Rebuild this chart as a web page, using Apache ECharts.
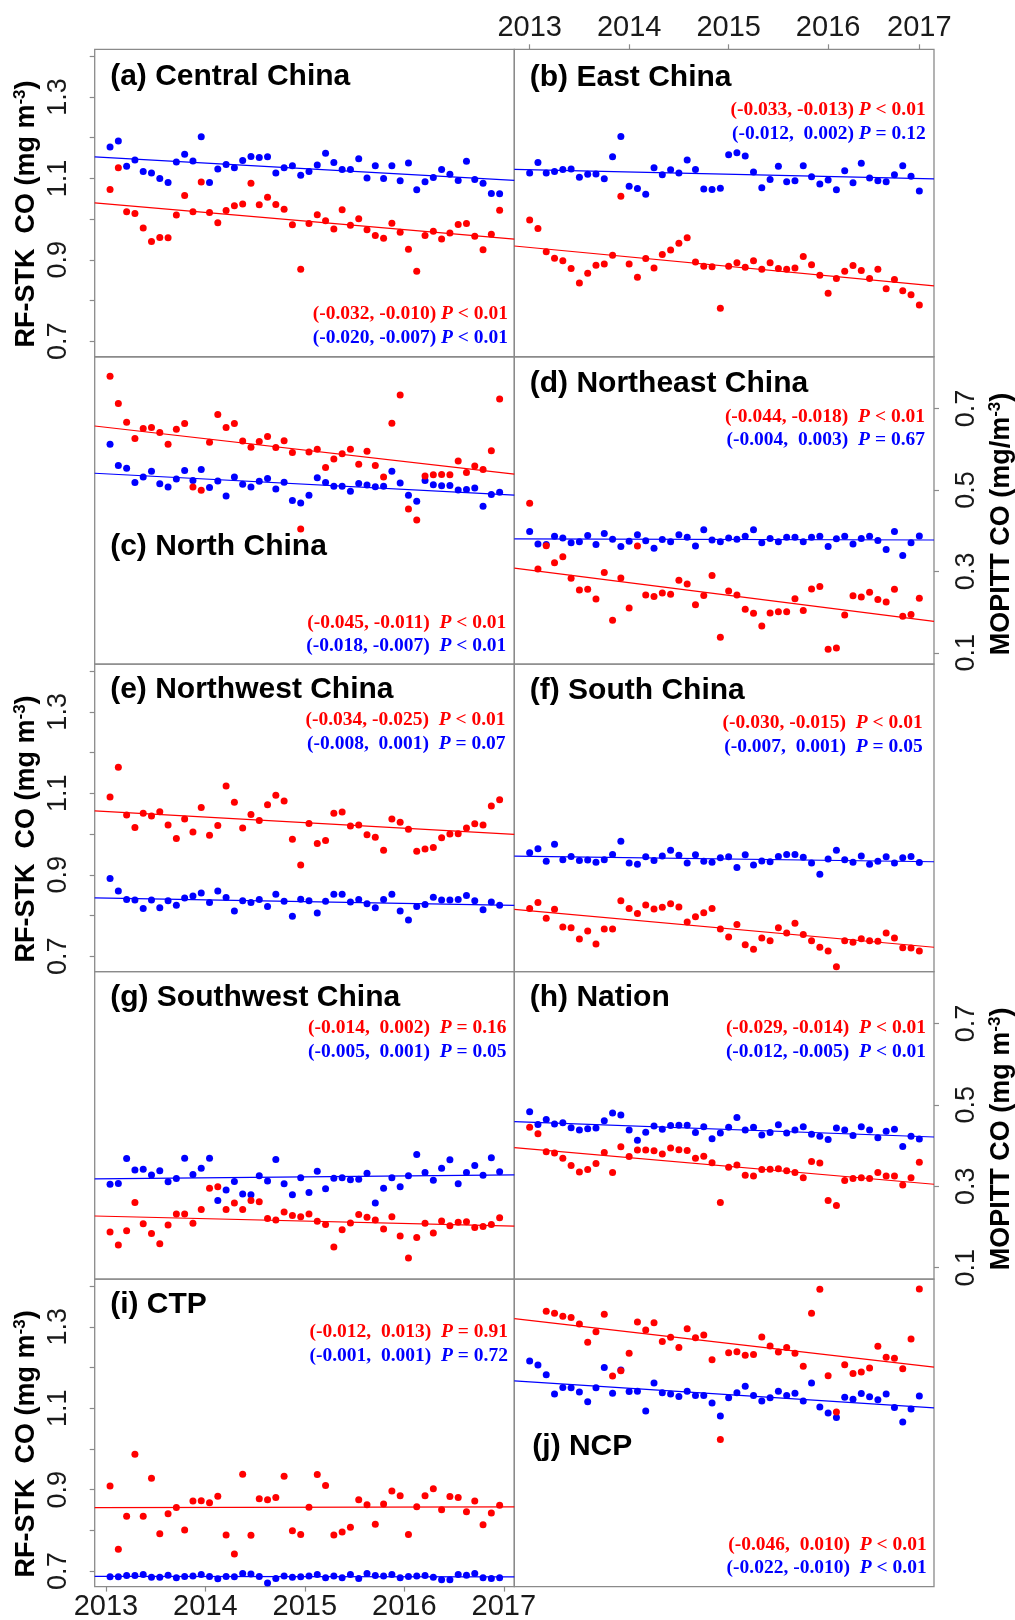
<!DOCTYPE html>
<html><head><meta charset="utf-8">
<script src="https://cdn.jsdelivr.net/npm/echarts@6/dist/echarts.min.js"></script>
<style>html,body{margin:0;padding:0;background:#fff}#c{width:1015px;height:1620px}</style>
</head><body><div id="c"></div>
<script>
// ---- categories: months Jan 2013 .. Dec 2016 ----
const monthLabels = [];
for (let y = 2013; y <= 2016; y++) for (let m = 1; m <= 12; m++) monthLabels.push(y + '-' + String(m).padStart(2, '0'));

const panelTitles = ['(a) Central China', '(b) East China', '(c) North China', '(d) Northeast China',
  '(e) Northwest China', '(f) South China', '(g) Southwest China', '(h) Nation', '(i) CTP', '(j) NCP'];

// ---- RF-STK CO (red, left axis, mg m-3) ----
const redA = [1.073,1.126,1.018,1.014,0.978,0.945,0.955,0.954,1.010,1.058,1.018,1.091,1.016,0.991,1.021,1.033,1.037,1.088,1.035,1.054,1.036,1.024,0.986,0.877,0.989,1.011,0.996,0.976,1.023,0.985,1.001,0.974,0.960,0.953,0.990,0.968,0.926,0.872,0.960,0.970,0.951,0.966,0.987,0.989,0.958,0.925,0.963,1.022];
const redB = [0.998,0.977,0.920,0.904,0.898,0.879,0.843,0.867,0.887,0.890,0.911,1.056,0.890,0.857,0.903,0.880,0.913,0.924,0.941,0.954,0.895,0.884,0.883,0.781,0.884,0.893,0.882,0.898,0.877,0.893,0.879,0.877,0.880,0.908,0.888,0.862,0.818,0.854,0.872,0.886,0.874,0.854,0.877,0.829,0.852,0.824,0.814,0.789];
const redC = [1.369,1.302,1.256,1.216,1.241,1.243,1.231,1.202,1.239,1.253,1.097,1.089,1.207,1.275,1.243,1.253,1.210,1.195,1.209,1.221,1.194,1.211,1.182,0.994,1.183,1.190,1.145,1.166,1.179,1.190,1.153,1.185,1.150,1.122,1.254,1.323,1.043,1.016,1.124,1.127,1.128,1.127,1.161,1.133,1.149,1.140,1.186,1.313];
const redD = [1.057,0.896,0.953,0.911,0.926,0.873,0.844,0.846,0.822,0.887,0.770,0.874,0.800,0.952,0.832,0.828,0.837,0.834,0.868,0.859,0.808,0.831,0.880,0.728,0.842,0.832,0.797,0.787,0.756,0.788,0.791,0.791,0.823,0.794,0.847,0.853,0.699,0.702,0.783,0.830,0.827,0.839,0.821,0.815,0.846,0.780,0.784,0.824];
const redE = [1.091,1.164,1.047,1.016,1.051,1.044,1.055,1.022,0.989,1.037,1.005,1.065,0.997,1.021,1.118,1.078,1.015,1.048,1.033,1.072,1.095,1.081,0.987,0.924,1.026,0.977,0.984,1.051,1.054,1.020,1.022,0.998,0.992,0.960,1.037,1.029,1.012,0.958,0.963,0.967,0.991,1.000,1.001,1.015,1.025,1.022,1.069,1.084];
const redF = [0.817,0.832,0.793,0.815,0.772,0.770,0.742,0.762,0.730,0.767,0.767,0.836,0.817,0.805,0.826,0.816,0.820,0.829,0.821,0.784,0.797,0.807,0.817,0.767,0.747,0.778,0.728,0.717,0.745,0.738,0.770,0.757,0.781,0.753,0.738,0.722,0.713,0.674,0.738,0.734,0.743,0.738,0.737,0.757,0.745,0.721,0.720,0.713];
const redG = [0.778,0.746,0.781,0.850,0.798,0.774,0.749,0.795,0.822,0.822,0.799,0.833,0.885,0.889,0.833,0.849,0.833,0.855,0.852,0.811,0.807,0.827,0.818,0.815,0.822,0.804,0.796,0.741,0.783,0.800,0.821,0.814,0.807,0.785,0.815,0.768,0.714,0.764,0.799,0.775,0.805,0.793,0.802,0.803,0.789,0.791,0.796,0.813];
const redH = [1.035,1.019,0.975,0.972,0.959,0.941,0.925,0.931,0.946,0.973,0.924,0.987,0.963,0.979,0.979,0.977,0.969,0.984,0.980,0.978,0.959,0.964,0.948,0.850,0.937,0.942,0.917,0.915,0.931,0.932,0.933,0.928,0.924,0.911,0.951,0.947,0.855,0.843,0.904,0.909,0.911,0.909,0.924,0.915,0.915,0.893,0.911,0.949];
const redI = [0.909,0.754,0.835,0.987,0.835,0.928,0.792,0.841,0.856,0.801,0.872,0.873,0.868,0.884,0.789,0.742,0.938,0.788,0.878,0.875,0.881,0.933,0.799,0.790,0.857,0.937,0.910,0.789,0.796,0.808,0.875,0.863,0.815,0.865,0.897,0.885,0.790,0.858,0.885,0.902,0.851,0.883,0.881,0.846,0.872,0.814,0.843,0.862];
const redJ = [null,null,1.338,1.333,1.326,1.323,1.307,1.262,1.288,1.331,1.179,1.192,1.235,1.312,1.292,1.310,1.264,1.274,1.249,1.295,1.273,1.280,1.219,1.023,1.236,1.239,1.230,1.232,1.275,1.253,1.238,1.249,1.235,1.203,1.333,1.392,1.180,1.091,1.207,1.185,1.189,1.199,1.252,1.225,1.223,1.197,1.270,1.393];

// ---- MOPITT CO (blue, right axis, mg m-3) ----
const blueA = [0.587,0.602,0.540,0.555,0.527,0.523,0.510,0.500,0.550,0.569,0.553,0.612,0.500,0.533,0.544,0.536,0.554,0.564,0.561,0.563,0.523,0.536,0.541,0.518,0.527,0.543,0.572,0.549,0.532,0.532,0.558,0.511,0.541,0.510,0.541,0.504,0.548,0.482,0.502,0.512,0.532,0.520,0.505,0.552,0.507,0.498,0.473,0.472];
const blueB = [0.523,0.549,0.523,0.527,0.532,0.533,0.513,0.520,0.521,0.509,0.563,0.613,0.491,0.485,0.471,0.536,0.519,0.531,0.523,0.555,0.532,0.484,0.483,0.486,0.568,0.573,0.565,0.526,0.487,0.507,0.540,0.502,0.504,0.541,0.514,0.496,0.506,0.482,0.529,0.499,0.547,0.511,0.504,0.502,0.519,0.541,0.515,0.479];
const blueC = [0.612,0.560,0.553,0.518,0.532,0.546,0.515,0.507,0.527,0.548,0.523,0.550,0.506,0.522,0.485,0.532,0.514,0.507,0.521,0.528,0.502,0.519,0.474,0.468,0.487,0.530,0.518,0.509,0.509,0.497,0.516,0.512,0.508,0.509,0.546,0.517,0.487,0.472,0.523,0.513,0.510,0.511,0.500,0.501,0.505,0.460,0.489,0.494];
const blueD = [0.398,0.367,0.366,0.386,0.382,0.370,0.373,0.388,0.366,0.393,0.379,0.361,0.374,0.390,0.375,0.357,0.378,0.373,0.390,0.384,0.362,0.402,0.377,0.373,0.382,0.379,0.386,0.402,0.370,0.381,0.373,0.384,0.384,0.373,0.384,0.386,0.361,0.380,0.386,0.367,0.381,0.386,0.376,0.354,0.398,0.339,0.370,0.387];
const blueE = [0.301,0.270,0.249,0.248,0.227,0.248,0.229,0.246,0.235,0.253,0.258,0.265,0.242,0.270,0.254,0.221,0.246,0.242,0.249,0.232,0.262,0.245,0.208,0.250,0.246,0.216,0.245,0.262,0.262,0.243,0.249,0.239,0.229,0.249,0.262,0.221,0.199,0.232,0.237,0.255,0.248,0.248,0.249,0.259,0.246,0.224,0.243,0.235];
const blueF = [0.364,0.374,0.343,0.385,0.347,0.355,0.345,0.346,0.341,0.347,0.360,0.392,0.339,0.336,0.354,0.345,0.356,0.370,0.358,0.339,0.359,0.343,0.341,0.352,0.354,0.328,0.359,0.334,0.344,0.342,0.355,0.360,0.360,0.353,0.339,0.311,0.349,0.370,0.347,0.341,0.356,0.336,0.343,0.354,0.339,0.352,0.355,0.340];
const blueG = [0.305,0.307,0.368,0.340,0.342,0.328,0.338,0.311,0.319,0.369,0.329,0.344,0.369,0.265,0.291,0.312,0.281,0.279,0.326,0.313,0.366,0.306,0.279,0.321,0.285,0.337,0.294,0.320,0.321,0.316,0.317,0.332,0.259,0.295,0.321,0.299,0.326,0.378,0.334,0.315,0.344,0.365,0.306,0.334,0.351,0.327,0.370,0.336];
const blueH = [0.483,0.452,0.464,0.453,0.456,0.444,0.438,0.441,0.443,0.461,0.480,0.475,0.438,0.413,0.433,0.448,0.440,0.449,0.450,0.450,0.432,0.446,0.417,0.431,0.445,0.469,0.438,0.445,0.426,0.432,0.451,0.431,0.438,0.446,0.428,0.423,0.415,0.443,0.438,0.425,0.446,0.438,0.419,0.435,0.440,0.398,0.423,0.416];
const blueI = [0.096,0.096,0.099,0.099,0.102,0.095,0.095,0.100,0.094,0.097,0.098,0.102,0.097,0.091,0.097,0.096,0.104,0.103,0.097,0.081,0.092,0.098,0.095,0.096,0.098,0.102,0.094,0.098,0.094,0.102,0.092,0.104,0.099,0.098,0.102,0.094,0.097,0.098,0.099,0.095,0.089,0.089,0.102,0.100,0.104,0.094,0.092,0.094];
const blueJ = [0.626,0.616,0.592,0.545,0.561,0.560,0.550,0.526,0.560,0.610,0.547,0.604,0.551,0.552,0.503,0.572,0.548,0.545,0.539,0.552,0.541,0.541,0.523,0.491,0.536,0.548,0.564,0.541,0.528,0.536,0.552,0.541,0.547,0.528,0.572,0.513,0.498,0.487,0.537,0.532,0.546,0.538,0.531,0.545,0.512,0.476,0.508,0.540];

// ---- trend lines: values at left and right edge of each panel ----
const trendRed = [[1.040,0.951],[0.934,0.836],[1.247,1.129],[0.898,0.767],[1.057,0.999],[0.815,0.722],[0.817,0.792],[0.985,0.895],[0.856,0.858],[1.320,1.201]];
const trendBlue = [[0.563,0.505],[0.532,0.509],[0.541,0.487],[0.380,0.377],[0.253,0.235],[0.356,0.342],[0.318,0.328],[0.459,0.421],[0.097,0.096],[0.577,0.511]];

// ---- trend statistics text ----
const redCI = ['(-0.032, -0.010)','(-0.033, -0.013)','(-0.045, -0.011)','(-0.044, -0.018)','(-0.034, -0.025)','(-0.030, -0.015)','(-0.014,  0.002)','(-0.029, -0.014)','(-0.012,  0.013)','(-0.046,  0.010)'];
const redP = ['< 0.01','< 0.01','< 0.01','< 0.01','< 0.01','< 0.01','= 0.16','< 0.01','= 0.91','< 0.01'];
const blueCI = ['(-0.020, -0.007)','(-0.012,  0.002)','(-0.018, -0.007)','(-0.004,  0.003)','(-0.008,  0.001)','(-0.007,  0.001)','(-0.005,  0.001)','(-0.012, -0.005)','(-0.001,  0.001)','(-0.022, -0.010)'];
const blueP = ['< 0.01','= 0.12','< 0.01','= 0.67','= 0.07','= 0.05','= 0.05','< 0.01','= 0.72','< 0.01'];

// ---- tick labels ----
const leftTickLabels = [0.7, 0.9, 1.1, 1.3];
const leftMinorTicks = [0.7, 0.8, 0.9, 1.0, 1.1, 1.2, 1.3, 1.4];
const rightTickLabels = [0.1, 0.3, 0.5, 0.7];
const bottomYears = [2013, 2014, 2015, 2016, 2017];
const topYearMonthIdx = [0, 12, 24, 36, 47];

// ---------------- layout ----------------
const xs = monthLabels.map(s => { const [y, m] = s.split('-').map(Number); return y + (m - 0.5) / 12; });
const X_MIN = 2012.8873, X_MAX = 2017.1058;
const Y_L = [0.662, 1.417], Y_R = [0.072, 0.827];
const colLeft = [94.7, 514.3], colW = [419.6, 419.7];
const rowTop0 = 49.3, rowH = 307.46;
const reds = [redA, redB, redC, redD, redE, redF, redG, redH, redI, redJ];
const blues = [blueA, blueB, blueC, blueD, blueE, blueF, blueG, blueH, blueI, blueJ];
const RED = '#ff0000', BLUE = '#0000ff';
const SANS = '"Liberation Sans", Arial, Helvetica, sans-serif';
const SERIF = '"Liberation Serif", "Times New Roman", serif';

const grids = [], xAxes = [], yAxes = [], series = [], graphics = [];
const titleDy = [27.5, 28, 190, 26.6, 26, 26.7, 26, 26, 25.7, 167.4];
// [inset from right, line1 dy, line2 dy, anchor]
const statPos = [[6.4,-42.7,-18.4,'b'],[8.3,60.7,84.7,'t'],[8,-41.3,-18,'b'],[9,60,83.3,'t'],[8.7,56,80,'t'],[11.3,58.7,82.7,'t'],[7.7,56,80,'t'],[8,56,80,'t'],[6.4,52.4,76.4,'t'],[7.3,-41.6,-18.3,'b']];

for (let p = 0; p < 10; p++) {
  const col = p % 2, row = Math.floor(p / 2);
  const left = colLeft[col], top = rowTop0 + row * rowH, w = colW[col];
  grids.push({ left, top, width: w, height: rowH, show: true, borderColor: '#8a8a8a', borderWidth: 1.3, backgroundColor: 'transparent', containLabel: false, outerBoundsMode: 'none' });

  const xa = { gridIndex: p, type: 'value', min: X_MIN, max: X_MAX, axisLine: { show: false }, splitLine: { show: false }, axisTick: { show: false }, axisLabel: { show: false } };
  if (p === 1) {
    const tv = topYearMonthIdx.map(i => xs[i]);
    Object.assign(xa, { position: 'top',
      axisTick: { show: true, length: 5, customValues: tv, lineStyle: { color: '#8a8a8a', width: 1.2 } },
      axisLabel: { show: true, customValues: tv, margin: 7, formatter: v => String(Math.round(v)), fontSize: 29, fontFamily: SANS, color: '#1a1a1a' } });
  }
  if (p === 8) {
    Object.assign(xa, { position: 'bottom',
      axisTick: { show: true, length: 5, customValues: bottomYears, lineStyle: { color: '#8a8a8a', width: 1.2 } },
      axisLabel: { show: true, customValues: bottomYears, margin: 6, formatter: v => String(Math.round(v)), fontSize: 29, fontFamily: SANS, color: '#1a1a1a' } });
  }
  xAxes.push(xa);

  const showLeft = (col === 0 && row % 2 === 0);
  const showRight = (col === 1 && row % 2 === 1);
  yAxes.push({ gridIndex: p, type: 'value', position: 'left', min: Y_L[0], max: Y_L[1],
    axisLine: { show: false }, splitLine: { show: false },
    axisTick: { show: showLeft, length: 5, customValues: leftMinorTicks, lineStyle: { color: '#8a8a8a', width: 1.2 } },
    axisLabel: { show: showLeft, customValues: leftTickLabels, rotate: 90, margin: 23, formatter: v => v.toFixed(1), fontSize: 27, fontFamily: SANS, color: '#1a1a1a' } });
  yAxes.push({ gridIndex: p, type: 'value', position: 'right', min: Y_R[0], max: Y_R[1],
    axisLine: { show: false }, splitLine: { show: false },
    axisTick: { show: showRight, length: 5, customValues: rightTickLabels, lineStyle: { color: '#8a8a8a', width: 1.2 } },
    axisLabel: { show: showRight, customValues: rightTickLabels, rotate: 90, margin: 19, formatter: v => v.toFixed(1), fontSize: 27, fontFamily: SANS, color: '#1a1a1a' } });

  series.push({ type: 'line', xAxisIndex: p, yAxisIndex: 2 * p, data: [[X_MIN, trendRed[p][0]], [X_MAX, trendRed[p][1]]], symbol: 'none', silent: true, lineStyle: { color: RED, width: 1.2 }, z: 2 });
  series.push({ type: 'line', xAxisIndex: p, yAxisIndex: 2 * p + 1, data: [[X_MIN, trendBlue[p][0]], [X_MAX, trendBlue[p][1]]], symbol: 'none', silent: true, lineStyle: { color: BLUE, width: 1.2 }, z: 2 });
  series.push({ type: 'scatter', xAxisIndex: p, yAxisIndex: 2 * p + 1, symbol: 'circle', symbolSize: 7, silent: true,
    itemStyle: { color: BLUE, opacity: 1 }, data: blues[p].map((v, i) => v == null ? null : [xs[i], v]).filter(d => d), z: 3 });
  series.push({ type: 'scatter', xAxisIndex: p, yAxisIndex: 2 * p, symbol: 'circle', symbolSize: 7, silent: true,
    itemStyle: { color: RED, opacity: 1 }, data: reds[p].map((v, i) => v == null ? null : [xs[i], v]).filter(d => d), z: 4 });

  // panel title
  graphics.push({ type: 'text', x: left + (p === 9 ? 18 : 15.5), y: top + titleDy[p], z: 10,
    style: { text: panelTitles[p], font: 'bold 30px ' + SANS, fill: '#000', align: 'left', verticalAlign: 'middle' } });

  // statistics text
  const sp = statPos[p];
  const base = sp[3] === 't' ? top : top + rowH;
  const lines = [[redCI[p], redP[p], RED], [blueCI[p], blueP[p], BLUE]];
  const sep = (p <= 1) ? ' ' : '  ';
  lines.forEach((ln, k) => {
    graphics.push({ type: 'text', x: left + w - sp[0], y: base + sp[1 + k], z: 10,
      style: { text: '{n|' + ln[0] + sep + '}{p|P}{n| ' + ln[1] + '}', align: 'right', verticalAlign: 'middle', fill: ln[2],
        rich: { n: { fontFamily: SERIF, fontWeight: 'bold', fontSize: 19.5, fill: ln[2] },
                p: { fontFamily: SERIF, fontWeight: 'bold', fontStyle: 'italic', fontSize: 19.5, fill: ln[2] } } } });
  });
}

// axis titles
const nameRich = { b: { fontFamily: SANS, fontWeight: 'bold', fontSize: 27, fill: '#000', lineHeight: 30 },
                   s: { fontFamily: SANS, fontWeight: 'bold', fontSize: 17, fill: '#000', verticalAlign: 'top', lineHeight: 30, padding: [0, 0, 8, 0] } };
[0, 2, 4].forEach(r => {
  graphics.push({ type: 'text', x: 26.7, y: rowTop0 + r * rowH + rowH / 2 + 11, rotation: Math.PI / 2, z: 10,
    style: { text: '{b|RF-STK  CO (mg m}{s|-3}{b|)}', rich: nameRich, align: 'center', verticalAlign: 'middle' } });
});
[[1, '{b|MOPITT CO (mg/m}{s|-3}{b|)}'], [3, '{b|MOPITT CO (mg m}{s|-3}{b|)}']].forEach(([r, t]) => {
  graphics.push({ type: 'text', x: 1001.7, y: rowTop0 + r * rowH + rowH / 2 + 13.5, rotation: Math.PI / 2, z: 10,
    style: { text: t, rich: nameRich, align: 'center', verticalAlign: 'middle' } });
});

const chart = echarts.init(document.getElementById('c'), null, { renderer: 'canvas' });
chart.setOption({ animation: false, backgroundColor: '#ffffff', grid: grids, xAxis: xAxes, yAxis: yAxes, series, graphic: graphics });
</script></body></html>
